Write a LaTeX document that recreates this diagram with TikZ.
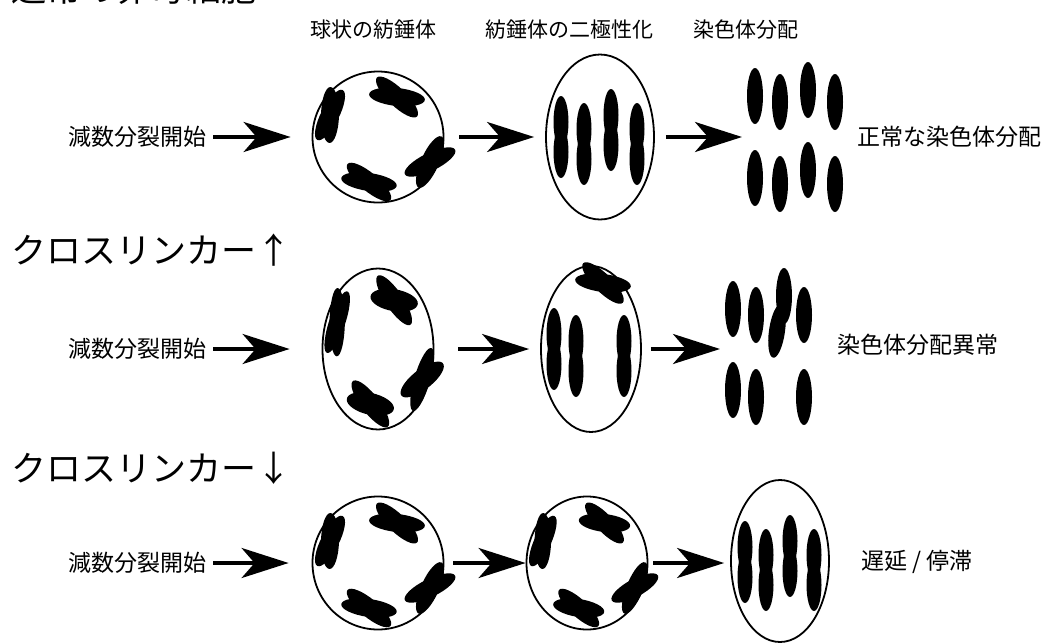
\documentclass[tikz,border=0pt]{standalone}
\usepackage{fontspec}
\setmainfont{Noto Sans CJK JP}
\usetikzlibrary{arrows.meta,shapes.geometric}

% one bivalent: two crossed lobes (x, y, axis angle, half opening)
\newcommand\bivx[4]{%
  \fill[shift={(#1,#2)},rotate=#3+#4] (0,0) ellipse [x radius=28pt,y radius=9pt];
  \fill[shift={(#1,#2)},rotate=#3-#4] (0,0) ellipse [x radius=28pt,y radius=9pt];}
% four bivalents around a spherical spindle
\newcommand\ringset{%
  \bivx{-48}{-22}{76}{13}
  \bivx{19}{-40}{-25}{19}
  \bivx{-9}{45}{-24}{16}
  \bivx{52}{25}{46}{20}}
% aligned chromosome with a slight waist
\newcommand\rodx[2]{%
  \fill (#1,#2-15) ellipse [x radius=7.5pt,y radius=26pt];
  \fill (#1,#2+15) ellipse [x radius=7.5pt,y radius=26pt];}
% separated chromosome
\newcommand\chromx[2]{\fill (#1,#2) ellipse [x radius=8pt,y radius=28pt];}

\begin{document}
\begin{tikzpicture}[x=1pt,y=-1pt,
  spindle/.style={draw,line width=1.8pt,ellipse,inner sep=0pt},
  flow/.style={line width=3.6pt,-{Stealth[length=47pt,width=30pt,inset=13pt]}},
  heading/.style={inner sep=0pt,font=\fontsize{35pt}{40pt}\selectfont},
  colhead/.style={inner sep=0pt,font=\fontsize{21pt}{25pt}\selectfont},
  lbl/.style={inner sep=0pt,font=\fontsize{23pt}{27pt}\selectfont}]
\useasboundingbox (0,0) rectangle (1050,643);

% titles
\node[heading,anchor=base west] (t0) at (11,1) {通常の卵母細胞};
\node[colhead] (h1) at (373.5,30) {球状の紡錘体};
\node[colhead] (h2) at (569,30) {紡錘体の二極性化};
\node[colhead] (h3) at (745.5,30) {染色体分配};
\node[heading,anchor=west] (t1) at (11,250) {クロスリンカー↑};
\node[heading,anchor=west] (t2) at (11,468) {クロスリンカー↓};

% ---- row 1: normal oocyte
\node[lbl,anchor=east] (l1) at (207,137) {減数分裂開始};
\node[spindle,minimum width=131pt,minimum height=131pt] (s11) at (378,137) {};
\node[spindle,minimum width=108pt,minimum height=165pt] (s12) at (600,137) {};
\coordinate (d1) at (746,137);
\node[lbl,anchor=west] (r1) at (857,137) {正常な染色体分配};
\begin{scope}[shift={(s11.center)}] \ringset \end{scope}
\begin{scope}[shift={(s12.center)}]
  \rodx{-39}{0}\rodx{-16}{7}\rodx{11}{-7}\rodx{37}{7}
\end{scope}
\chromx{755}{96}\chromx{780}{102}\chromx{808}{90}\chromx{835}{102}
\chromx{755}{178}\chromx{780}{184}\chromx{808}{170}\chromx{835}{184}
\draw[flow,shorten <=6pt,shorten >=21pt] (l1.east) -- (s11.west);
\draw[flow,shorten <=15pt,shorten >=11pt] (s11.east) -- (s12.west);
\draw[flow,shorten <=11pt,shorten >=4pt] (s12.east) -- (d1);

% ---- row 2: more crosslinker
\node[lbl,anchor=east] (l2) at (207,349) {減数分裂開始};
\node[spindle,minimum width=111pt,minimum height=161pt] (s21) at (378,349) {};
\node[spindle,minimum width=100pt,minimum height=166pt] (s22) at (591,349) {};
\coordinate (d2) at (725,349);
\node[lbl,anchor=west] (r2) at (837,345) {染色体分配異常};
\begin{scope}[shift={(s21.center)},xscale=0.85,yscale=1.22] \ringset \end{scope}
\begin{scope}[shift={(s22.center)}]
  \rodx{-37}{0}\rodx{-15}{7}\rodx{33}{7}
  \bivx{12}{-66}{-26}{19}
\end{scope}
\chromx{733}{309}\chromx{756}{315}\chromx{784}{296}\chromx{804}{315}
\fill[shift={(777,331)},rotate=-8] (0,0) ellipse [x radius=8pt,y radius=27pt];
\chromx{733}{390}\chromx{756}{397}\chromx{804}{397}
\draw[flow,shorten <=6pt,shorten >=32pt] (l2.east) -- (s21.west);
\draw[flow,shorten <=24pt,shorten >=11pt] (s21.east) -- (s22.west);
\draw[flow,shorten <=9pt,shorten >=5pt] (s22.east) -- (d2);

% ---- row 3: less crosslinker
\node[lbl,anchor=east] (l3) at (207,563) {減数分裂開始};
\node[spindle,minimum width=131pt,minimum height=133pt] (s31) at (378,563) {};
\node[spindle,minimum width=121pt,minimum height=133pt] (s32) at (587,563) {};
\node[spindle,minimum width=98pt,minimum height=162pt] (s33) at (780,561) {};
\node[lbl,anchor=west] (r3) at (861,562) {遅延 / 停滞};
\begin{scope}[shift={(s31.center)}] \ringset \end{scope}
\begin{scope}[shift={(s32.center)},xscale=0.92] \ringset \end{scope}
\begin{scope}[shift={(s33.center)}]
  \rodx{-35}{1}\rodx{-14}{9}\rodx{10}{-5}\rodx{34}{9}
\end{scope}
\draw[flow,shorten <=6pt,shorten >=23pt] (l3.east) -- (s31.west);
\draw[flow,shorten <=9pt,shorten >=0pt] (s31.east) -- (s32.west);
\draw[flow,shorten <=5pt,shorten >=6pt] (s32.east) -- (s32.east -| s33.west);
\end{tikzpicture}
\end{document}
